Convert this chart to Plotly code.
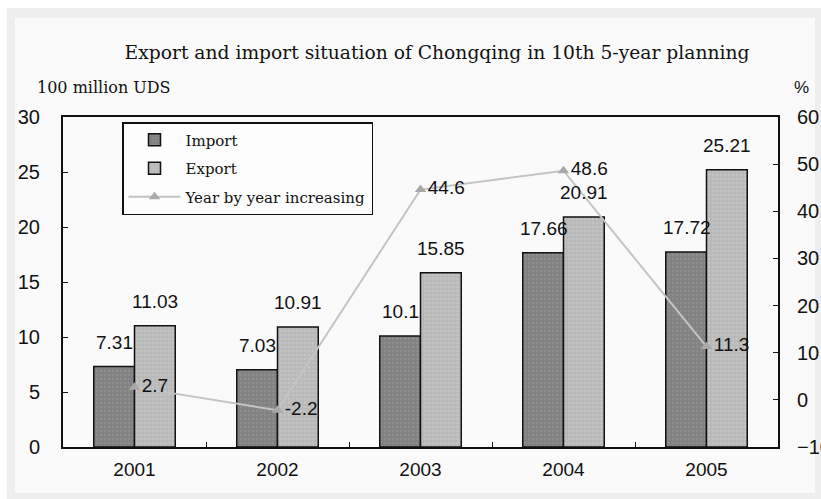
import plotly.graph_objects as go

years = ["2001", "2002", "2003", "2004", "2005"]
import_vals = [7.31, 7.03, 10.1, 17.66, 17.72]
export_vals = [11.03, 10.91, 15.85, 20.91, 25.21]
growth_vals = [2.7, -2.2, 44.6, 48.6, 11.3]

title_text = "Export and import situation of Chongqing in 10th 5-year planning"
left_unit = "100 million UDS"
right_unit = "%"

SERIF = "DejaVu Serif"
SANS = "Liberation Sans"

W, H = 821, 499
L, R, T, B = 63, 778, 117, 447

def px(x):
    return (x - L) / (R - L)

def py(y):
    return (B - y) / (B - T)

fig = go.Figure()
fig.add_trace(go.Bar(
    x=years, y=import_vals, name="Import",
    marker=dict(color="#878787", line=dict(color="#111111", width=1.5),
                pattern=dict(shape=".", fgcolor="#9a9a9a", bgcolor="#828282", size=4, solidity=0.25)),
    legendgroup="a", offsetgroup="a",
))
fig.add_trace(go.Bar(
    x=years, y=export_vals, name="Export",
    marker=dict(color="#bdbdbd", line=dict(color="#111111", width=1.5),
                pattern=dict(shape=".", fgcolor="#cfcfcf", bgcolor="#b9b9b9", size=4, solidity=0.25)),
    legendgroup="b", offsetgroup="b",
))
fig.add_trace(go.Scatter(
    x=years, y=growth_vals, name="Year by year increasing", yaxis="y2",
    mode="lines+markers+text",
    line=dict(color="#c4c4c4", width=2),
    marker=dict(symbol="triangle-up", size=10, color="#a9a9a9"),
    text=[str(v) for v in growth_vals], textposition="middle right",
    textfont=dict(family=SANS, size=19, color="#111111"),
    legendgroup="c",
))

# bar value labels (x given as category index so numeric-looking names aren't misread)
for vals, shift in ((import_vals, -20), (export_vals, 20)):
    for i, v in enumerate(vals):
        fig.add_annotation(x=i, y=v, xref="x", yref="y", text=str(v), showarrow=False,
                           xanchor="center", yanchor="bottom", xshift=shift, yshift=12,
                           font=dict(family=SANS, size=19, color="#111111"))

fig.add_annotation(x=px(35), y=py(87), xref="paper", yref="paper", text=left_unit,
                   showarrow=False, xanchor="left", yanchor="middle",
                   font=dict(family=SERIF, size=16, color="#111111"))
fig.add_annotation(x=px(792), y=py(87), xref="paper", yref="paper", text=right_unit,
                   showarrow=False, xanchor="left", yanchor="middle",
                   font=dict(family=SANS, size=17, color="#111111"))

# background frame
fig.add_shape(type="rect", xref="paper", yref="paper", x0=px(7), x1=px(830), y0=py(510), y1=py(8),
              fillcolor="#eeeeee", line=dict(width=0), layer="below")
fig.add_shape(type="rect", xref="paper", yref="paper", x0=px(15), x1=px(815), y0=py(493), y1=py(18),
              fillcolor="#fafafa", line=dict(width=0), layer="below")

fig.update_layout(
    width=W, height=H,
    margin=dict(l=L, r=W - R, t=T, b=H - B, autoexpand=False),
    paper_bgcolor="white", plot_bgcolor="rgba(0,0,0,0)",
    title=dict(text=title_text, x=px(437), xref="paper", xanchor="center",
               y=1 - 52 / H, yref="container", yanchor="middle",
               font=dict(family=SERIF, size=18.7, color="#111111")),
    barmode="group", bargap=0.43, bargroupgap=0,
    showlegend=True,
    legend=dict(x=px(122), y=py(122), xanchor="left", yanchor="top",
                traceorder="grouped", tracegroupgap=6, itemwidth=52,
                bgcolor="rgba(255,255,255,0.5)", bordercolor="#111111", borderwidth=1.5,
                font=dict(family=SERIF, size=15, color="#111111")),
    xaxis=dict(type="category", range=[-0.5, 4.5], automargin=False,
               showline=True, linecolor="#111111", linewidth=2, mirror=True,
               ticks="inside", ticklen=5, tickcolor="#111111", tickson="boundaries",
               tickfont=dict(family=SANS, size=19, color="#111111"), ticklabelstandoff=4,
               showgrid=False, zeroline=False),
    yaxis=dict(range=[0, 30], dtick=5, automargin=False,
               showline=True, linecolor="#111111", linewidth=2, mirror=True,
               ticks="inside", ticklen=5, tickcolor="#111111",
               tickfont=dict(family=SANS, size=20, color="#111111"), ticklabelstandoff=17,
               showgrid=False, zeroline=False),
    yaxis2=dict(range=[-10, 60], dtick=10, overlaying="y", side="right", automargin=False,
                showline=True, linecolor="#111111", linewidth=2,
                ticks="inside", ticklen=5, tickcolor="#111111",
                tickfont=dict(family=SANS, size=20, color="#111111"), ticklabelstandoff=13,
                showgrid=False, zeroline=False),
)

fig.write_html("out.html", config={"displayModeBar": False},
               post_script="document.body.style.margin='0';document.body.style.overflow='hidden';")
